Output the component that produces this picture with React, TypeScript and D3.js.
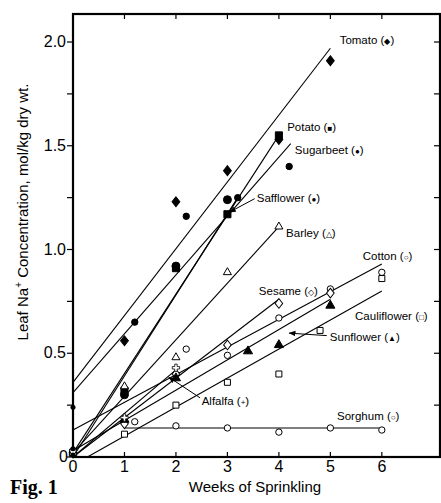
import * as d3 from 'd3';
import React from 'react';

// species and their symbols
const species = ["Tomato", "Potato", "Sugarbeet", "Safflower", "Barley", "Cotton", "Sesame", "Cauliflower", "Sunflower", "Alfalfa", "Sorghum"];
const symbolNames = ["◆", "■", "●", "●", "△", "○", "◇", "□", "▲", "+", "○"];

// measured points [week, conc]
const tomatoPts = [[0, 0.02], [1, 0.56], [2, 1.23], [3, 1.38], [4, 1.53], [5, 1.91]];
const potatoPts = [[0, 0.02], [1, 0.32], [2, 0.91], [3, 1.17], [4, 1.55]];
const sugarbeetPts = [[0, 0.03], [1.2, 0.65], [2.2, 1.16], [3.2, 1.25], [4.2, 1.40]];
const safflowerPts = [[1, 0.30], [2, 0.92], [3, 1.24]];
const barleyPts = [[0, 0.02], [1, 0.34], [2, 0.48], [3, 0.89], [4, 1.11]];
const cottonPts = [[0, 0.03], [1.2, 0.17], [2.2, 0.52], [3, 0.49], [4, 0.67], [5, 0.81], [6, 0.89]];
const sesamePts = [[1, 0.16], [2, 0.40], [3, 0.54], [4, 0.74], [5, 0.79]];
const cauliflowerPts = [[1, 0.11], [2, 0.25], [3, 0.36], [4, 0.40], [4.8, 0.61], [6, 0.86]];
const sunflowerPts = [[1, 0.18], [2, 0.38], [3.4, 0.51], [4, 0.54], [5, 0.73]];
const alfalfaPts = [[1, 0.19], [2, 0.43]];
const sorghumPts = [[2, 0.15], [3, 0.14], [4, 0.12], [5, 0.14], [6, 0.13]];
// small dots sitting on the y axis at week 0
const zeroDots = [[0, 0.24], [0, 0.04], [0, 0.01]];

// fitted lines [x0, y0, x1, y1]
const fitLines = [
  [0, 0.36, 5, 1.97],   // tomato
  [0, 0.02, 4, 1.55],   // potato
  [0, 0.31, 4.23, 1.51], // sugarbeet
  [0, 0.0, 3.2, 1.25],  // safflower
  [0, 0.02, 4, 1.11],   // barley
  [0, 0.13, 6, 0.93],   // cotton
  [0, 0.0, 4, 0.76],    // sesame
  [0.28, 0.0, 6, 0.80], // cauliflower
  [0, 0.03, 5, 0.76],   // sunflower
  [0, 0.0, 2, 0.42],    // alfalfa
  [1, 0.14, 6, 0.14],   // sorghum
];

// label anchors [week, conc]
const labelPos = [[5.18, 1.99], [4.16, 1.57], [4.31, 1.46], [3.57, 1.23], [4.14, 1.06], [5.63, 0.95], [3.61, 0.78], [5.48, 0.66], [4.99, 0.56], [2.5, 0.25], [5.13, 0.18]];
const pointers = [
  [3.53, 1.245, 3.04, 1.18],  // safflower
  [4.93, 0.585, 4.2, 0.597],  // sunflower
  [2.47, 0.285, 1.86, 0.385], // alfalfa
];

const xTicks = [0, 1, 2, 3, 4, 5, 6];
const yMajor = [0, 0.5, 1.0, 1.5, 2.0];
const yMinor = [0.25, 0.75, 1.25, 1.75];

const font = "'Liberation Sans', Arial, sans-serif";

export default function App() {
  const x = d3.scaleLinear().domain([0, 7.13]).range([73, 440]);
  const y = d3.scaleLinear().domain([0, 2.135]).range([457, 14]);
  const allPts = [tomatoPts, potatoPts, sugarbeetPts, safflowerPts, barleyPts, cottonPts, sesamePts, cauliflowerPts, sunflowerPts, alfalfaPts, sorghumPts];
  const markerType = [d3.symbolDiamond2, d3.symbolSquare, d3.symbolCircle, d3.symbolCircle, d3.symbolTriangle, d3.symbolCircle, d3.symbolDiamond2, d3.symbolSquare, d3.symbolTriangle, d3.symbolCross, d3.symbolCircle];
  const markerSize = [48, 50, 32, 50, 28, 32, 45, 36, 36, 30, 32];
  const filled = [true, true, true, true, false, false, false, false, true, true, false];

  const [x0, x1] = x.range();
  const [y0, y1] = y.range();

  return (
    <svg width={441} height={503} style={{ position: 'absolute', left: 0, top: 0, background: '#fff' }}>
      <defs>
        <marker id="arr" viewBox="0 0 10 10" refX="9" refY="5" markerWidth="7" markerHeight="7" orient="auto">
          <path d="M0,1 L10,5 L0,9 Z" fill="#000" />
        </marker>
      </defs>
      {/* frame */}
      <rect x={x0} y={y1} width={x1 - x0} height={y0 - y1} fill="none" stroke="#000" strokeWidth={2.2} />
      {/* left ticks outward, right ticks inward */}
      {yMajor.concat(yMinor).map((v, i) => (
        <g key={"yt" + i}>
          <line x1={x0 - 6} x2={x0} y1={y(v)} y2={y(v)} stroke="#000" strokeWidth={1.2} />
          <line x1={x1 - 6} x2={x1} y1={y(v)} y2={y(v)} stroke="#000" strokeWidth={1.2} />
        </g>
      ))}
      {yMajor.map((v, i) => (
        <text key={"yl" + i} x={v === 0 ? 68 : 66} y={y(v) + 5} textAnchor="end" fontFamily={font} fontSize={16}>
          {v === 0 ? "0" : v.toFixed(1)}
        </text>
      ))}
      {xTicks.map((v, i) => (
        <g key={"xt" + i}>
          {v > 0 && <line x1={x(v)} x2={x(v)} y1={y0} y2={y0 - 5} stroke="#000" strokeWidth={1.2} />}
          {v > 0 && <line x1={x(v)} x2={x(v)} y1={y1} y2={y1 + 5} stroke="#000" strokeWidth={1.2} />}
          <text x={x(v)} y={y0 + 15} textAnchor="middle" fontFamily={font} fontSize={16}>{v}</text>
        </g>
      ))}
      {/* fitted lines */}
      {fitLines.map((l, i) => (
        <line key={"fl" + i} x1={x(l[0])} y1={y(l[1])} x2={x(l[2])} y2={y(l[3])} stroke="#000" strokeWidth={1.1} />
      ))}
      {/* points */}
      {allPts.map((pts, si) => pts.map((p, pi) => (
        <path key={"p" + si + "-" + pi}
          d={d3.symbol().type(markerType[si]).size(markerSize[si])() as string}
          transform={`translate(${x(p[0])},${y(p[1])})` + (markerType[si] === d3.symbolDiamond2 ? " scale(0.9,1.15)" : "")}
          fill={filled[si] && markerType[si] !== d3.symbolCross ? "#000" : "#fff"}
          stroke="#000" strokeWidth={markerType[si] === d3.symbolCross ? 0.8 : 1} />
      )))}
      {zeroDots.map((p, i) => (
        <circle key={"z" + i} cx={x(p[0])} cy={y(p[1])} r={2.5} fill="#000" />
      ))}
      {/* labels */}
      {species.map((s, i) => (
        <text key={"lb" + i} x={x(labelPos[i][0])} y={y(labelPos[i][1])} fontFamily={font} fontSize={11.5}>
          {s} (<tspan fontSize={8}>{symbolNames[i]}</tspan>)
        </text>
      ))}
      {pointers.map((p, i) => (
        <line key={"pt" + i} x1={x(p[0])} y1={y(p[1])} x2={x(p[2])} y2={y(p[3])} stroke="#000" strokeWidth={1} markerEnd="url(#arr)" />
      ))}
      {/* axis titles */}
      <text x={255} y={492} textAnchor="middle" fontFamily={font} fontSize={15}>Weeks of Sprinkling</text>
      <text transform="translate(28,212) rotate(-90)" textAnchor="middle" fontFamily={font} fontSize={15}>
        Leaf Na<tspan dy={-6} fontSize={10}>+</tspan><tspan dy={6}> Concentration, mol/kg dry wt.</tspan>
      </text>
      <text x={10} y={494} fontFamily="'Liberation Serif', 'Times New Roman', serif" fontWeight="bold" fontSize={20}>Fig. 1</text>
    </svg>
  );
}
